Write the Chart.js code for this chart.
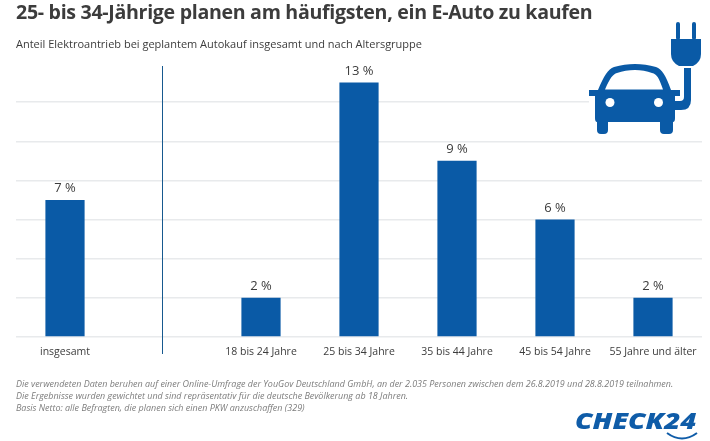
<!DOCTYPE html>
<html lang="de">
<head>
<meta charset="utf-8">
<style>
  html, body { margin: 0; padding: 0; background: #fff; }
  #page { position: relative; width: 710px; height: 441px; overflow: hidden; font-family: "Open Sans", sans-serif; }
  #page div, #page svg { position: absolute; white-space: nowrap; }
  canvas { position: absolute; left: 0; top: 0; }
  #title { left: 16px; top: -1px; font-size: 19.6px; line-height: 26px; font-weight: 700; letter-spacing: -0.31px; color: #3c3c3c; }
  #subtitle { left: 16px; top: 35px; font-size: 11px; line-height: 18px; color: #3c3c3c; }
  .note { left: 16px; font-size: 8.96px; line-height: 12px; font-style: italic; color: #7d7d7d; }
  #logo { left: 575px; top: 407px; font-size: 23px; line-height: 26px; font-weight: 800; font-style: italic; color: #0f5ca8; transform: scaleX(1.21); transform-origin: left top; }
</style>
</head>
<body>
<div id="page">
  <canvas id="chart" width="710" height="441"></canvas>
  <div id="title">25- bis 34-Jährige planen am häufigsten, ein E-Auto zu kaufen</div>
  <div id="subtitle">Anteil Elektroantrieb bei geplantem Autokauf insgesamt und nach Altersgruppe</div>
  <div class="note" style="top:378px">Die verwendeten Daten beruhen auf einer Online-Umfrage der YouGov Deutschland GmbH, an der 2.035 Personen zwischen dem 26.8.2019 und 28.8.2019 teilnahmen.</div>
  <div class="note" style="top:390px">Die Ergebnisse wurden gewichtet und sind repräsentativ für die deutsche Bevölkerung ab 18 Jahren.</div>
  <div class="note" style="top:402px">Basis Netto: alle Befragten, die planen sich einen PKW anzuschaffen (329)</div>
  <svg style="left:0;top:0" width="710" height="441" viewBox="0 0 710 441">
    <!-- white patch behind the icon, the top gridline stops here -->
    <rect x="589" y="20" width="121" height="115" fill="#fff"/>
    <g fill="#0a5aa6">
      <path d="M598 90 C604 76 608 69 614 67 C628 63 642 63 656 67 C662 69 666 76 671 90 L680 90 L680 96 L675 96 L675 118 Q675 122 673 122 L673 130 Q673 134 669 134 L664 134 Q660 134 660 130 L660 122 L608 122 L608 130 Q608 134 604 134 L601 134 Q597 134 597 130 L597 122 Q595 122 595 118 L595 96 L589 96 L589 90 Z"/>
      <path d="M684 68 L691 68 L691 100 Q691 110 681 110 L674 110 L674 101 L680 101 Q684 101 684 97 Z"/>
      <path d="M671 39 L701 39 L701 54 Q701 62 693 66 L679 66 Q671 62 671 54 Z"/>
      <rect x="676" y="22" width="4" height="18" rx="2"/>
      <rect x="692" y="22" width="4" height="18" rx="2"/>
    </g>
    <path d="M605 89.5 C610 78 613 74 617 73 C628 69 642 69 652 73 C657 74 659 78 663 89.5 Z" fill="#fff"/>
    <circle cx="610" cy="102.5" r="4.5" fill="#fff"/>
    <circle cx="658.5" cy="102.5" r="4.5" fill="#fff"/>
    <path d="M667 433 Q682 444 697 433" fill="none" stroke="#0f5ca8" stroke-width="2"/>
  </svg>
  <div id="logo">CHECK24</div>
</div>
<script src="https://cdn.jsdelivr.net/npm/chart.js@4"></script>
<script>
const categories = ["insgesamt", "", "18 bis 24 Jahre", "25 bis 34 Jahre", "35 bis 44 Jahre", "45 bis 54 Jahre", "55 Jahre und älter"];
const shares = [7, null, 2, 13, 9, 6, 2];
const yTicks = [0, 2, 4, 6, 8, 10, 12];
const dividerIndex = 1;

// Werte ueber den Balken
const valueLabels = {
    id: "valueLabels",
    afterDatasetsDraw(chart) {
        const ctx = chart.ctx;
        const meta = chart.getDatasetMeta(0);
        ctx.save();
        ctx.font = '13px "Open Sans"';
        ctx.fillStyle = "#3c3c3c";
        ctx.textAlign = "center";
        ctx.textBaseline = "bottom";
        meta.data.forEach((bar, i) => {
            if (shares[i] !== null) {
                ctx.fillText(shares[i] + " %", bar.x, bar.y - 5);
            }
        });
        ctx.restore();
    }
};

// senkrechte Trennlinie zwischen insgesamt und Altersgruppen
const divider = {
    id: "divider",
    afterDraw(chart) {
        const ctx = chart.ctx;
        const x = chart.scales.x.getPixelForValue(dividerIndex);
        ctx.save();
        ctx.strokeStyle = "#17598f";
        ctx.lineWidth = 1;
        ctx.beginPath();
        ctx.moveTo(Math.floor(x) - 0.5, 66);
        ctx.lineTo(Math.floor(x) - 0.5, chart.scales.y.bottom + 17);
        ctx.stroke();
        ctx.restore();
    }
};

new Chart(document.getElementById("chart").getContext("2d"), {
    type: "bar",
    data: {
        labels: categories,
        datasets: [{
            data: shares,
            backgroundColor: "#0a5aa6",
            barPercentage: 0.4,
            categoryPercentage: 1
        }]
    },
    options: {
        responsive: false,
        animation: false,
        layout: { padding: { left: 16, right: 8, top: 63, bottom: 0 } },
        plugins: { legend: { display: false }, tooltip: { enabled: false } },
        scales: {
            x: {
                grid: { display: false },
                border: { display: false },
                ticks: {
                    color: "#3c3c3c",
                    font: { family: "Open Sans", size: 10.5 },
                    padding: 1,
                    maxRotation: 0,
                    autoSkip: false
                },
                afterFit(scale) { scale.height = 104; }
            },
            y: {
                min: 0,
                max: 14,
                afterBuildTicks(scale) { scale.ticks = yTicks.map(v => ({ value: v })); },
                grid: { color: "#e8eaec", lineWidth: 1.5, drawTicks: false },
                border: { display: false },
                ticks: { display: false },
                afterFit(scale) { scale.width = 0; }
            }
        }
    },
    plugins: [valueLabels, divider]
});
</script>
</body>
</html>
